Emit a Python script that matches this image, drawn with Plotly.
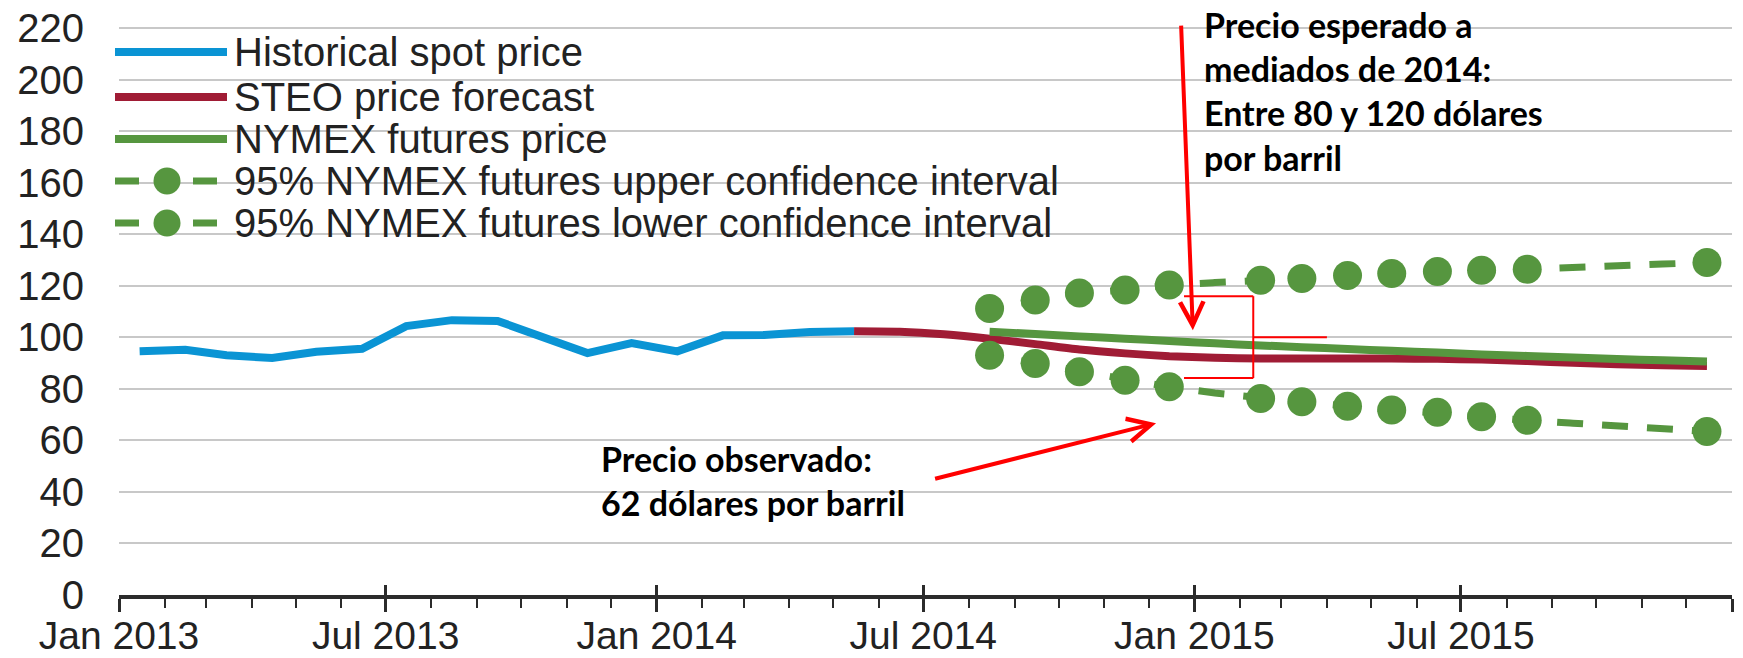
import plotly.graph_objects as go

# ---------------- data ----------------
hist_months = ["2013-01", "2013-02", "2013-03", "2013-04", "2013-05", "2013-06",
               "2013-07", "2013-08", "2013-09", "2013-10", "2013-11", "2013-12",
               "2014-01", "2014-02", "2014-03", "2014-04", "2014-05"]
hist_spot = [94.6, 95.2, 93.1, 92.0, 94.4, 95.6, 104.4, 106.7, 106.4, 100.6,
             93.9, 97.8, 94.6, 100.8, 100.9, 102.1, 102.4]

steo_months = ["2014-05", "2014-06", "2014-07", "2014-08", "2014-09", "2014-10",
               "2014-11", "2014-12", "2015-01", "2015-02", "2015-03", "2015-04",
               "2015-05", "2015-06", "2015-07", "2015-08", "2015-09", "2015-10",
               "2015-11", "2015-12"]
steo_price = [102.4, 102.2, 101.2, 99.5, 97.4, 95.3, 93.8, 92.7, 92.1, 91.8,
              91.8, 91.8, 91.8, 91.7, 91.4, 90.8, 90.2, 89.6, 89.2, 88.9]

nymex_months = ["2014-08", "2014-09", "2014-10", "2014-11", "2014-12", "2015-01",
                "2015-02", "2015-03", "2015-04", "2015-05", "2015-06", "2015-07",
                "2015-08", "2015-09", "2015-10", "2015-11", "2015-12"]
nymex_price = [102.2, 101.3, 100.4, 99.5, 98.6, 97.7, 96.9, 96.2, 95.5, 94.8,
               94.1, 93.4, 92.8, 92.2, 91.6, 91.1, 90.6]
ci_upper = [111.2, 114.5, 117.2, 118.4, 120.3, 121.3, 122.2, 122.9, 124.0, 124.8,
            125.6, 126.1, 126.5, 127.2, 127.9, 128.5, 129.1]
ci_lower = [93.1, 89.9, 86.7, 83.4, 80.8, 78.4, 76.3, 75.0, 73.3, 71.8,
            70.9, 69.2, 67.8, 66.7, 65.6, 64.6, 63.5]
# months on which the confidence-interval markers are drawn
ci_marker_months = ["2014-08", "2014-09", "2014-10", "2014-11", "2014-12",
                    "2015-02", "2015-03", "2015-04", "2015-05", "2015-06",
                    "2015-07", "2015-08", "2015-12"]

tick_months = ["2013-01", "2013-07", "2014-01", "2014-07", "2015-01", "2015-07", "2016-01"]
tick_labels = ["Jan 2013", "Jul 2013", "Jan 2014", "Jul 2014", "Jan 2015", "Jul 2015", ""]
y_ticks = [0, 20, 40, 60, 80, 100, 120, 140, 160, 180, 200, 220]

legend_labels = ["Historical spot price", "STEO price forecast", "NYMEX futures price",
                 "95% NYMEX futures upper confidence interval",
                 "95% NYMEX futures lower confidence interval"]

note_expected = "Precio esperado a<br>mediados de 2014:<br>Entre 80 y 120 dólares<br>por barril"
note_observed = "Precio observado:<br>62 dólares por barril"

# ---------------- style ----------------
BLUE = "#0A94D4"
RED = "#A01C35"
GREEN = "#56963F"
ARROW = "#FF0000"
TXT = "#222222"
FONT = "Liberation Sans, Arial, sans-serif"

W, H = 1743, 658
L, R, T, B = 119, 11, 18, 63


def mid(m):
    return m + "-15"


def first(m):
    return m + "-01"


def pxx(px):
    return (px - L) / (W - L - R)


def pxy(py):
    return (H - B - py) / (H - T - B)


fig = go.Figure()

fig.add_trace(go.Scatter(x=[mid(m) for m in hist_months], y=hist_spot, mode="lines",
                         line=dict(color=BLUE, width=8), showlegend=False))
fig.add_trace(go.Scatter(x=[mid(m) for m in steo_months], y=steo_price, mode="lines",
                         line=dict(color=RED, width=8, shape="spline", smoothing=0.6),
                         showlegend=False))
fig.add_trace(go.Scatter(x=[mid(m) for m in nymex_months], y=nymex_price, mode="lines",
                         line=dict(color=GREEN, width=8, shape="spline", smoothing=0.6),
                         showlegend=False))

dash = "13px,19px,13px,0px"
for ci in (ci_upper, ci_lower):
    fig.add_trace(go.Scatter(x=[mid(m) for m in nymex_months], y=ci, mode="lines",
                             line=dict(color=GREEN, width=7, dash=dash), showlegend=False))
    sel = [ci[nymex_months.index(m)] for m in ci_marker_months]
    fig.add_trace(go.Scatter(x=[mid(m) for m in ci_marker_months], y=sel, mode="markers",
                             marker=dict(color=GREEN, size=29, line=dict(width=0)),
                             showlegend=False))

# helper trace for the overlaid axis that draws the upper halves of the major ticks
fig.add_trace(go.Scatter(x=[first(tick_months[0]), first(tick_months[-1])], y=[None, None],
                         xaxis="x2", yaxis="y", mode="lines", showlegend=False,
                         hoverinfo="skip"))

# ---------------- legend (drawn manually) ----------------
rows = [52, 97, 139, 181, 223]
colors = [BLUE, RED, GREEN, GREEN, GREEN]
shapes = []
annotations = []
for i, (row, col, lab) in enumerate(zip(rows, colors, legend_labels)):
    if i < 3:
        shapes.append(dict(type="line", xref="paper", yref="paper",
                           x0=pxx(115), x1=pxx(227), y0=pxy(row), y1=pxy(row),
                           line=dict(color=col, width=8)))
    else:
        for a, b in ((115, 139), (193, 217)):
            shapes.append(dict(type="line", xref="paper", yref="paper",
                               x0=pxx(a), x1=pxx(b), y0=pxy(row), y1=pxy(row),
                               line=dict(color=col, width=7)))
        shapes.append(dict(type="circle", xref="paper", yref="paper",
                           x0=pxx(153.5), x1=pxx(180.5), y0=pxy(row + 13.5),
                           y1=pxy(row - 13.5), fillcolor=col, line=dict(width=0)))
    annotations.append(dict(text=lab, xref="paper", yref="paper", x=pxx(232), y=pxy(row),
                            xanchor="left", yanchor="middle", showarrow=False,
                            font=dict(family=FONT, size=40, color=TXT)))

# ---------------- call-outs ----------------
br_left, br_right, br_end = "2014-12-25", "2015-02-10", "2015-04-01"
br_top, br_bot, br_mid = 116.0, 84.2, 100.1
for (x0, y0, x1, y1) in ((br_left, br_top, br_right, br_top),
                         (br_right, br_top, br_right, br_bot),
                         (br_left, br_bot, br_right, br_bot),
                         (br_right, br_mid, br_end, br_mid)):
    shapes.append(dict(type="line", xref="x", yref="y", x0=x0, y0=y0, x1=x1, y1=y1,
                       line=dict(color=ARROW, width=2), layer="above"))

annotations.append(dict(x="2014-12-31", y=102.8, ax="2014-12-23", ay=221.6,
                        xref="x", yref="y", axref="x", ayref="y", text="",
                        showarrow=True, arrowhead=5, arrowsize=1.15, arrowwidth=4,
                        arrowcolor=ARROW, standoff=0))
annotations.append(dict(x="2014-12-06", y=66.7, ax="2014-07-08", ay=45.0,
                        xref="x", yref="y", axref="x", ayref="y", text="",
                        showarrow=True, arrowhead=5, arrowsize=1.15, arrowwidth=4,
                        arrowcolor=ARROW, standoff=0))

annotations.append(dict(text="<b>" + note_expected + "</b>", x="2015-01-06", y=195.8,
                        xref="x", yref="y", xanchor="left", yanchor="middle", align="left",
                        showarrow=False, font=dict(family="Lato, sans-serif", size=34,
                                                   color="#000000")))
annotations.append(dict(text="<b>" + note_observed + "</b>", x="2013-11-23", y=44.6,
                        xref="x", yref="y", xanchor="left", yanchor="middle", align="left",
                        showarrow=False, font=dict(family="Lato, sans-serif", size=34,
                                                   color="#000000")))

fig.update_layout(
    width=W, height=H,
    margin=dict(l=L, r=R, t=T, b=B, pad=0),
    paper_bgcolor="white", plot_bgcolor="white",
    showlegend=False,
    shapes=shapes, annotations=annotations,
    xaxis=dict(type="date", range=[first(tick_months[0]), first(tick_months[-1])],
               automargin=False,
               tickmode="array", tickvals=[first(m) for m in tick_months],
               ticktext=tick_labels, ticks="outside", ticklen=13, tickwidth=2.5,
               tickcolor="#2b2b2b", showline=True, linecolor="#2b2b2b", linewidth=4,
               showgrid=False, zeroline=False, ticklabelstandoff=-10,
               tickfont=dict(family=FONT, size=39, color=TXT),
               minor=dict(tickmode="linear", tick0=first(tick_months[0]), dtick="M1",
                          ticks="outside", ticklen=9, tickwidth=2, tickcolor="#2b2b2b")),
    xaxis2=dict(type="date", overlaying="x", matches="x", anchor="y", side="bottom",
                automargin=False,
                tickmode="array", tickvals=[first(m) for m in tick_months],
                ticks="inside", ticklen=10, tickwidth=2.5, tickcolor="#2b2b2b",
                showticklabels=False, showgrid=False, showline=False, zeroline=False),
    yaxis=dict(range=[0, 224], tickmode="array", tickvals=y_ticks, automargin=False,
               showgrid=True, gridcolor="#c8c8c8", gridwidth=2, zeroline=False,
               showline=False, ticks="", ticklabelstandoff=34,
               tickfont=dict(family=FONT, size=40, color=TXT)),
)

fig.write_html("out.html", config={"displayModeBar": False},
               post_script="document.body.style.margin='0';"
                           "document.body.style.overflow='hidden';")
